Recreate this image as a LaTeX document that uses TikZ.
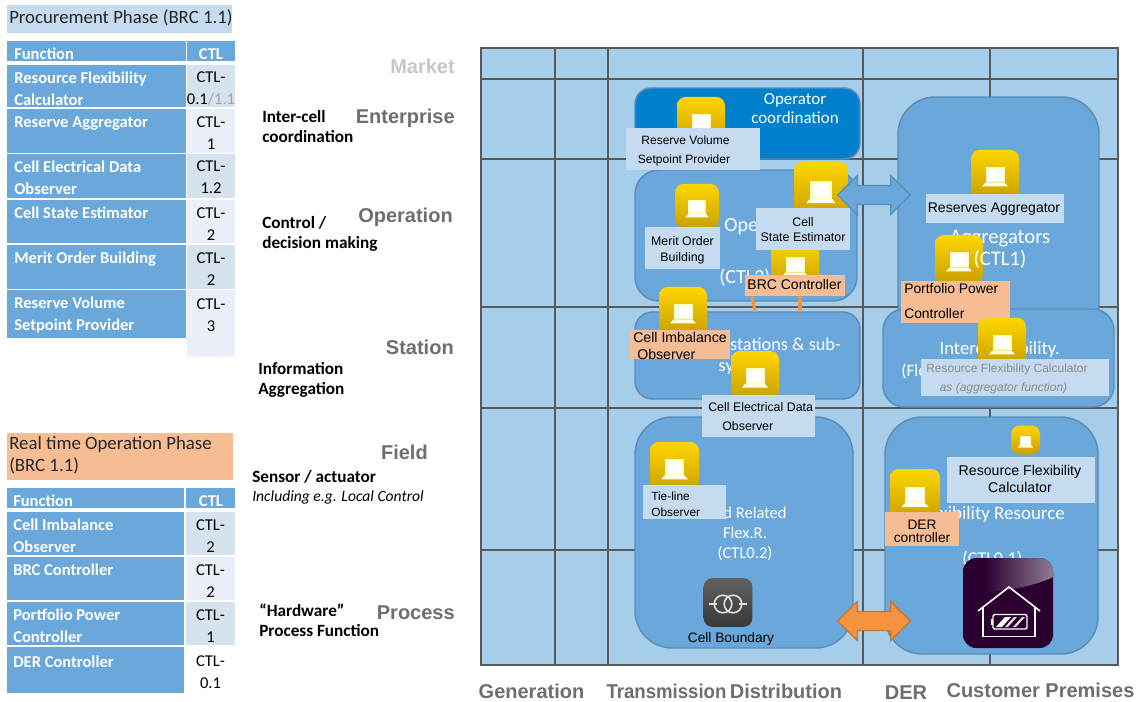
\documentclass[tikz,border=0pt]{standalone}
\usepackage{fontspec}
\setmainfont{Carlito}
\newfontfamily\arialf{Liberation Sans}
\usetikzlibrary{shapes.arrows}
\definecolor{gridfill}{HTML}{A6CDEA}
\definecolor{gridline}{HTML}{595959}
\definecolor{boxfill}{HTML}{6AA8DB}
\definecolor{boxline}{HTML}{5A8DB8}
\definecolor{opfill}{HTML}{0080CC}
\definecolor{lblue}{HTML}{C5DBEF}
\definecolor{lorange}{HTML}{F6BC94}
\definecolor{arrorange}{HTML}{F79240}
\definecolor{arrline}{HTML}{C8762E}
\definecolor{ctla}{HTML}{D6E2EE}
\definecolor{ctlb}{HTML}{EBF0F8}
\definecolor{purp}{HTML}{2B0030}
\definecolor{gloss}{HTML}{8E7C92}
\definecolor{lvl}{HTML}{6E6E6E}
\definecolor{icontop}{HTML}{FFD600}
\definecolor{iconbot}{HTML}{C9A000}
\tikzset{
  x=0.75pt,y=-0.75pt,
  gridln/.style={draw=gridline,line width=1.9pt},
  area/.style={draw=boxline,fill=boxfill,line width=1.1pt,inner sep=0pt},
  areatxt/.style={text=white,inner sep=0pt,align=center,font=\fontsize{#1}{#1}\selectfont},
  icon/.style={rounded corners=6.5pt,top color=icontop,bottom color=iconbot,inner sep=0pt,outer sep=0pt},
  lbl/.style={fill=lblue,inner sep=0pt,outer sep=0pt},
  olbl/.style={fill=lorange,inner sep=0pt,outer sep=0pt},
  ltxt/.style={inner sep=0pt,align=center,text=black,font=\arialf\fontsize{#1}{12pt}\selectfont},
  lvltxt/.style={inner sep=0pt,anchor=east,text=lvl,font=\arialf\bfseries\fontsize{15pt}{15pt}\selectfont},
  axtxt/.style={inner sep=0pt,text=lvl,font=\arialf\bfseries\fontsize{15pt}{15pt}\selectfont},
  side/.style={inner sep=0pt,anchor=west,align=left,font=\bfseries\fontsize{12.9pt}{15pt}\selectfont},
  hcell/.style={inner sep=0pt,outer sep=0pt,fill=boxfill},
  ftxt/.style={inner sep=0pt,anchor=west,align=left,text=white,font=\bfseries\fontsize{12.4pt}{16.5pt}\selectfont},
  ctxt/.style={inner sep=0pt,align=center,font=\fontsize{12.4pt}{16.5pt}\selectfont},
  blockarrow/.style={double arrow,double arrow head extend=7.5pt,double arrow head indent=0pt,inner xsep=0pt,inner ysep=6.75pt,minimum width=28.5pt,minimum height=54.5pt,line width=0.9pt},
}
% rectangle node given by its corners
\newcommand\rectnode[7]{%
  \pgfmathsetmacro\cxx{(#3+#5)/2}\pgfmathsetmacro\cyy{(#4+#6)/2}%
  \pgfmathsetmacro\wdd{(#5-#3)*0.75}\pgfmathsetmacro\htt{(#6-#4)*0.75}%
  \node[#2,minimum width=\wdd pt,minimum height=\htt pt] (#1) at (\cxx,\cyy) {#7};}
% yellow laptop icon
\newcommand\laptopicon[4]{%
  \pgfmathsetmacro\szz{#4*0.75}\pgfmathsetmacro\scc{#4/48}%
  \node[icon,minimum size=\szz pt] (#1) at (#2,#3) {};
  \begin{scope}[shift={(#2,#3)},scale=\scc]
    \fill[yellow!25!white] (-9.5,-7) rectangle (9.5,8.5);
    \fill[white] (-7.5,-5) rectangle (7.5,7);
    \fill[yellow!8!white] (-9.5,8.5) -- (9.5,8.5) -- (13,12.5) -- (-13,12.5) -- cycle;
  \end{scope}}
\def\tyoff{23.7}
% table row: name, top, bottom, col1right, col2left, func, ctl colour
\newcommand\trow[7]{%
  \rectnode{#1f}{hcell}{7}{#2}{#4}{#3}{}
  \rectnode{#1c}{fill=#7,inner sep=0pt}{#5}{#2}{235}{#3}{}
  \pgfmathsetmacro\tyy{#2+\tyoff}%
  \pgfmathsetmacro\cxx{(#5+235)/2}%
  \node[ftxt] (#1ft) at (14,\tyy) {#6};
  \node[ctxt] (#1ct) at (\cxx,\tyy) {\ctltext};}
\begin{document}
\begin{tikzpicture}
\path[use as bounding box,fill=white] (0,0) rectangle (1139,702);

% ---------- left: procurement table
\rectnode{ptitle}{fill=lblue,inner sep=0pt}{7}{5}{232}{33}{}
\node[inner sep=0pt,anchor=west,font=\fontsize{14.1pt}{15pt}\selectfont,text=black!85] (ptitlet) at (9,18) {Procurement Phase (BRC 1.1)};
\rectnode{phf}{hcell}{7}{41}{186}{61}{}
\rectnode{phc}{hcell}{187}{41}{235}{61}{}
\node[ftxt] (phft) at (14,54) {Function};
\node[ctxt,text=white,font=\bfseries\fontsize{12.4pt}{15pt}\selectfont] (phct) at (211,54) {CTL};
\def\ctltext{CTL-\\0.1\textcolor{black!35}{/1.1}}
\trow{pa}{65}{107}{186}{187}{Resource Flexibility\\Calculator}{ctla}
\def\ctltext{CTL-\\1}
\trow{pb}{109}{153}{186}{187}{Reserve Aggregator\\\mbox{}}{ctlb}
\def\ctltext{CTL-\\1.2}
\trow{pc}{154}{198}{186}{187}{Cell Electrical Data\\Observer}{ctla}
\def\ctltext{CTL-\\2}
\trow{pd}{200}{243}{186}{187}{Cell State Estimator\\\mbox{}}{ctlb}
\trow{pe}{245}{289}{186}{187}{Merit Order Building\\\mbox{}}{ctla}
\rectnode{pfx}{fill=ctlb,inner sep=0pt}{187}{290}{235}{357}{}
\rectnode{pff}{hcell}{7}{290}{186}{338}{}
\node[ftxt] (pfft) at (14,315) {Reserve Volume\\Setpoint Provider};
\node[ctxt] (pfct) at (211,315) {CTL-\\3};

% ---------- left: real time table
\rectnode{rtitle}{fill=lorange,inner sep=0pt}{7}{433}{233}{480}{}
\node[inner sep=0pt,anchor=west,align=left,font=\fontsize{14.1pt}{16.5pt}\selectfont,text=black!85] (rtitlet) at (9,455) {Real time Operation Phase\\(BRC 1.1)};
\rectnode{rhf}{hcell}{7}{488}{184}{508}{}
\rectnode{rhc}{hcell}{186}{488}{235}{508}{}
\node[ftxt] (rhft) at (13,501) {Function};
\node[ctxt,text=white,font=\bfseries\fontsize{12.4pt}{15pt}\selectfont] (rhct) at (211,501) {CTL};
\def\ctltext{CTL-\\2}
\tikzset{ftxt/.append style={xshift=-0.75pt}}
\trow{ra}{512}{555}{184}{186}{Cell Imbalance\\Observer}{ctla}
\trow{rb}{557}{600}{184}{186}{BRC Controller\\\mbox{}}{ctlb}
\def\ctltext{CTL-\\1}
\trow{rc}{602}{645}{184}{186}{Portfolio Power\\Controller}{ctla}
\def\ctltext{CTL-\\0.1}
\def\tyoff{25.5}
\trow{rd}{647}{693}{184}{186}{DER Controller\\\mbox{}}{white}

% ---------- side labels
\node[side] (s1) at (262,127) {Inter-cell\\coordination};
\node[side] (s2) at (262,234) {Control /\\decision making};
\node[side] (s3) at (258,380) {Information\\Aggregation};
\node[side] (s4) at (252,477) {Sensor / actuator};
\node[side,font=\itshape\fontsize{11.7pt}{13pt}\selectfont] (s5) at (252,497) {Including e.g. Local Control};
\node[side] (s6) at (259,620) {“Hardware”\\Process Function};

\node[lvltxt,text=black!22] (l1) at (455,66) {Market};
\node[lvltxt] (l2) at (455,118.5) {Enterprise};
\node[lvltxt] (l3) at (453,217.5) {Operation};
\node[lvltxt] (l4) at (454,347) {Station};
\node[lvltxt] (l5) at (428,452) {Field};
\node[lvltxt] (l6) at (455,613) {Process};

\node[axtxt] (a1) at (531.5,691) {Generation};
\node[axtxt] (a2) at (666.5,691) {\scalebox{0.93}[1]{Transmission}};
\node[axtxt] (a3) at (786,691) {Distribution};
\node[axtxt] (a4) at (906,693) {DER};
\node[axtxt] (a5) at (1040.5,690) {Customer Premises};

% ---------- grid
\fill[gridfill] (481,48) rectangle (1118,665);
\foreach \xx in {555,608,863,990} \draw[gridln] (\xx,48) -- (\xx,665);
\foreach \yy in {79,159,307,408,550} \draw[gridln] (481,\yy) -- (1118,\yy);
\draw[gridln] (481,48) rectangle (1118,665);

% ---------- text mostly hidden behind the area
\node[inner sep=0pt,text=black,font=\arialf\fontsize{9pt}{9pt}\selectfont] (cellt) at (955,650) {Cell};

% ---------- areas
\rectnode{opco}{area,fill=opfill,rounded corners=12pt}{635}{88}{860}{159}{}
\rectnode{oper}{area,rounded corners=18pt}{635}{170}{857}{301}{}
\rectnode{subs}{area,rounded corners=13pt}{635}{312}{860}{399}{}
\rectnode{grid}{area,rounded corners=28pt}{635}{417}{853}{648}{}
\rectnode{aggr}{area,rounded corners=28pt}{898}{97}{1099}{340}{}
\rectnode{intc}{area,rounded corners=16pt}{883}{309}{1114}{407}{}
\rectnode{flex}{area,rounded corners=28pt}{885}{417}{1098}{654}{}

% ---------- area texts
\node[areatxt=12.7pt,align=center,text width=70pt] (t1) at (795,108.5) {Operator\\[1.5pt]coordination};
\node[areatxt=15pt,anchor=west] (t2) at (724,226) {Operations};
\node[areatxt=15pt] (t3) at (745,278) {(CTL2)};
\node[areatxt=13.7pt,anchor=east] (t4) at (841,344) {Sub-stations \& sub-};
\node[areatxt=13.7pt] (t5) at (748,367) {systems};
\node[areatxt=15.5pt] (t6) at (1000,238.5) {Aggregators};
\node[areatxt=14pt,anchor=east] (t8) at (1060,350) {Interc flexibility.};
\node[areatxt=13pt,anchor=west] (t9) at (901,371) {(Flex};
\node[areatxt=12.4pt,align=center] (t10) at (745,534) {Grid Related\\[2.5pt]Flex.R.\\[2.5pt](CTL0.2)};
\node[areatxt=14.2pt,anchor=east] (t11) at (1065,514) {Flexibility Resource};
\node[areatxt=13.6pt,anchor=west] (t12) at (962,559) {(CTL0.1)};

% ---------- small orange links
\coordinate (brcA) at (752,296);
\coordinate (brcB) at (800,296);
\coordinate (subA) at (755,312);
\coordinate (subB) at (800,312);
\draw[arrorange,line width=2.4pt] (brcA) -- (subA);
\draw[arrorange,line width=2.4pt] (brcB) -- (subB);

% ---------- icons and labels
\laptopicon{i1}{701}{121}{48}
\rectnode{b1}{lbl}{626}{128}{760}{170}{}
\node[ltxt=9pt] (b1a) at (685.5,140) {Reserve Volume};
\node[ltxt=9pt] (b1b) at (684,160) {Setpoint Provider};

\laptopicon{i2}{697}{206}{44}
\rectnode{b2}{lbl}{645}{227}{720}{269}{}
\node[ltxt=9.3pt] (b2t) at (682.5,250) {Merit Order\\Building};

\laptopicon{i4}{795}{264}{48}
\laptopicon{i3}{821}{189}{54}
\rectnode{b3}{lbl}{756}{208}{850}{250}{}
\node[ltxt=9.3pt] (b3t) at (803,229.5) {Cell\\[-0.75pt]State Estimator};
\rectnode{b4}{olbl}{745}{275}{845}{296}{}
\node[ltxt=10.5pt] (b4t) at (794.5,284.5) {BRC Controller};

\laptopicon{i5}{683}{311}{48}
\rectnode{b5}{olbl}{629}{330}{730}{359}{}
\node[ltxt=10.6pt,anchor=west] (b5a) at (633,337.5) {Cell Imbalance};
\node[ltxt=10.6pt,anchor=west] (b5b) at (637,354.5) {Observer};

\laptopicon{i6}{755}{375}{48}
\rectnode{b6}{lbl}{702}{395}{815}{437}{}
\node[ltxt=9.3pt,anchor=west] (b6a) at (708,407) {Cell Electrical Data};
\node[ltxt=9.3pt,anchor=west] (b6b) at (722,426) {Observer};

\laptopicon{i7}{674.5}{466.5}{49}
\rectnode{b7}{lbl}{643}{485}{726}{519}{}
\node[ltxt=8.9pt,anchor=west] (b7a) at (651,496) {Tie-line};
\node[ltxt=8.9pt,anchor=west] (b7b) at (651,512) {Observer};

\laptopicon{i8}{995}{174}{48}
\rectnode{b8}{lbl}{926}{194}{1064}{223}{}
\node[ltxt=10.5pt] (b8t) at (994,209) {Reserves Aggregator};

\laptopicon{i9}{959}{259}{48}
\node[areatxt=15.5pt] (t7) at (1000,259) {(CTL1)};
\rectnode{b9}{olbl}{901}{281}{1010}{323}{}
\node[ltxt=10.4pt,anchor=west] (b9a) at (904,289) {Portfolio Power};
\node[ltxt=10.4pt,anchor=west] (b9b) at (904,314) {Controller};

\laptopicon{i10}{1002}{342}{48}
\rectnode{b10}{lbl}{921}{359}{1109}{396}{}
\node[ltxt=9pt,text=black!45] (b10a) at (1007,369.5) {Resource Flexibility Calculator};
\node[ltxt=9pt,text=black!45] (b10b) at (1003.5,388) {\textit{as (aggregator function)}};

\laptopicon{i11}{1025.5}{440}{29}
\rectnode{b11}{lbl}{947}{457}{1095}{503}{}
\node[ltxt=10.6pt] (b11t) at (1020,478.5) {Resource Flexibility\\[0.75pt]Calculator};

\laptopicon{i12}{915}{494}{50}
\rectnode{b12}{olbl}{885}{512}{959}{546}{}
\node[ltxt=10.3pt,font=\arialf\fontsize{10.3pt}{10pt}\selectfont] (b12t) at (922,531.5) {DER\\controller};

% ---------- cell boundary icon
\node[rounded corners=6.5pt,top color=black!62,bottom color=black!78,inner sep=0pt,minimum size=36.5pt] (tr) at (728,602.5) {};
\draw[black!12,line width=1pt] (709,604) -- (717,604) (739,604) -- (747,604);
\draw[black!12,line width=1.2pt] (723,604) circle [radius=6.6pt];
\draw[black!12,line width=1.2pt] (733,604) circle [radius=6.6pt];
\node[inner sep=0pt,text=black,font=\arialf\fontsize{10.3pt}{12pt}\selectfont] (crt) at (731,639) {Cell Boundary};

% ---------- block arrows
\node[blockarrow,draw=boxline,fill=boxfill] (ab) at (874,195) {};
\node[blockarrow,draw=arrline,fill=arrorange] (ao) at (874,621) {};

% ---------- house battery icon
\node[rounded corners=10pt,fill=purp,inner sep=0pt,minimum size=67.5pt] (hb) at (1008,603) {};
\begin{scope}
  \clip[rounded corners=10pt] (963,558) rectangle (1053,648);
  \shade[left color=purp,right color=gloss]
    (985,558) -- (1053,558) -- (1053,577) .. controls (1035,586) and (1010,590) .. (985,593) -- cycle;
\end{scope}
\draw[white,line width=1.2pt,line join=miter] (978,611) -- (1009,587) -- (1040,611);
\draw[white,line width=1.2pt] (983,607) -- (983,636.5) -- (1035,636.5) -- (1035,607);
\draw[white,line width=1pt,rounded corners=1.5pt] (993,614.5) rectangle (1027,629);
\fill[white] (990.5,619) rectangle (992.5,625);
\fill[white] (996,627) -- (1005,617) -- (1011,617) -- (1002,627) -- cycle;
\fill[white!85!purp] (1005,627) -- (1014,617) -- (1017,617) -- (1008,627) -- cycle;
\fill[white!85!purp] (1013,627) -- (1022,617) -- (1025,617) -- (1016,627) -- cycle;
\end{tikzpicture}
\end{document}
